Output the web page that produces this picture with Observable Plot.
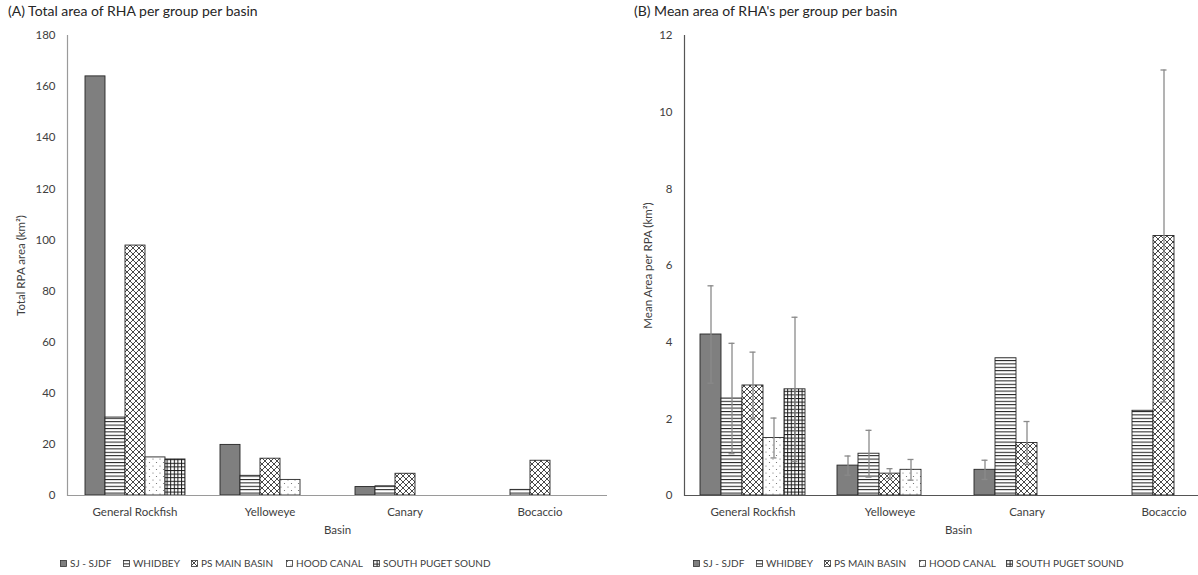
<!DOCTYPE html>
<html>
<head>
<meta charset="utf-8">
<script src="https://cdn.jsdelivr.net/npm/d3@7"></script>
<script src="https://cdn.jsdelivr.net/npm/@observablehq/plot@0.6"></script>
<style>
  html, body { margin: 0; padding: 0; background: #fff; }
  body { width: 1198px; height: 575px; overflow: hidden; position: relative; font-family: Lato, "Open Sans", sans-serif; color: #333; }
  .title { position: absolute; top: 2px; font-size: 14px; color: #262626; white-space: nowrap; }
  .chart { position: absolute; top: 20px; }
  .chart svg { max-width: none !important; }
  .legend { position: absolute; top: 557px; height: 14px; width: 540px; font-size: 10px; color: #404040; white-space: nowrap; }
  .legend .item { position: absolute; top: 0; display: flex; align-items: center; }
  .legend svg { margin-right: 3px; }
</style>
</head>
<body>
<svg width="0" height="0" style="position:absolute">
  <defs>
    <pattern id="pWh" width="4" height="3.4" patternUnits="userSpaceOnUse">
      <rect width="4" height="3.4" fill="#fff"/>
      <rect y="0" width="4" height="1" fill="#1a1a1a"/>
    </pattern>
    <pattern id="pPs" width="6" height="6" patternUnits="userSpaceOnUse">
      <rect width="6" height="6" fill="#fff"/>
      <path d="M0,0L6,6M6,0L0,6" stroke="#1a1a1a" stroke-width="0.8"/>
    </pattern>
    <pattern id="pHood" width="7" height="7" patternUnits="userSpaceOnUse">
      <rect width="7" height="7" fill="#fff"/>
      <circle cx="1.5" cy="1.5" r="0.6" fill="#666"/>
      <circle cx="5" cy="5" r="0.6" fill="#666"/>
    </pattern>
    <pattern id="pSouth" width="3.6" height="3.6" patternUnits="userSpaceOnUse">
      <rect width="3.6" height="3.6" fill="#fff"/>
      <rect width="3.6" height="1" fill="#1a1a1a"/>
      <rect width="1" height="3.6" fill="#1a1a1a"/>
    </pattern>
  </defs>
</svg>

<div class="title" style="left:8px">(A) Total area of RHA per group per basin</div>
<div class="title" style="left:634px">(B) Mean area of RHA's per group per basin</div>
<div id="left" class="chart" style="left:0px; width:608px"></div>
<div id="right" class="chart" style="left:600px; width:632px"></div>
<div id="legendL" class="legend" style="left:60px"></div>
<div id="legendR" class="legend" style="left:693px"></div>

<script>
// ---- data ----
const basins = ["General Rockfish", "Yelloweye", "Canary", "Bocaccio"];
const seriesNames = ["SJ - SJDF", "WHIDBEY", "PS MAIN BASIN", "HOOD CANAL", "SOUTH PUGET SOUND"];

// (A) total area (km²), per series, in basin order
const totalSJ    = [164, 19.8, 3.3, null];
const totalWhid  = [30.5, 7.7, 3.6, 2.2];
const totalPS    = [97.8, 14.4, 8.5, 13.6];
const totalHood  = [14.9, 6.1, null, null];
const totalSouth = [14.1, null, null, null];

// (B) mean area per RPA (km²) and error (±)
const meanSJ    = [4.2, 0.78, 0.67, null];
const meanWhid  = [2.53, 1.09, 3.58, 2.21];
const meanPS    = [2.87, 0.57, 1.37, 6.77];
const meanHood  = [1.5, 0.67, null, null];
const meanSouth = [2.77, null, null, null];

const errSJ    = [1.27, 0.25, 0.25, null];
const errWhid  = [1.44, 0.61, null, null];
const errPS    = [0.87, 0.13, 0.56, 4.33];
const errHood  = [0.52, 0.27, null, null];
const errSouth = [1.88, null, null, null];

const yTicksA = [0, 20, 40, 60, 80, 100, 120, 140, 160, 180];
const yTicksB = [0, 2, 4, 6, 8, 10, 12];

// ---- styling ----
const fills = ["#7f7f7f", "url(#pWh)", "url(#pPs)", "url(#pHood)", "url(#pSouth)"];

function buildRows(values, errs) {
  const rows = [];
  seriesNames.forEach((s, i) => {
    basins.forEach((b, j) => {
      const v = values[i][j];
      if (v != null) rows.push({basin: b, series: s, value: v, err: errs ? errs[i][j] : null});
    });
  });
  return rows;
}

const rowsA = buildRows([totalSJ, totalWhid, totalPS, totalHood, totalSouth]);
const rowsB = buildRows([meanSJ, meanWhid, meanPS, meanHood, meanSouth],
                        [errSJ, errWhid, errPS, errHood, errSouth]);

function chart({rows, width, marginLeft, yDomain, yTicks, yLabel, labelOffset, axisColor, withErr}) {
  const errRows = rows.filter(d => d.err != null);
  const marks = [
    Plot.barY(rows, {fx: "basin", x: "series", y: "value", fill: "series", stroke: "#262626", strokeWidth: 0.9}),
    Plot.ruleY([0], {stroke: axisColor, strokeWidth: 1.2}),
    Plot.frame({anchor: "left", stroke: axisColor, strokeWidth: 1.2, facetAnchor: "left"}),
    Plot.axisY({ticks: yTicks, tickSize: 0, tickPadding: 12, label: yLabel, labelAnchor: "center", labelArrow: "none",
                labelOffset, fontSize: 11.5, color: "#404040"}),
    Plot.axisFx({anchor: "bottom", tickSize: 0, tickPadding: 12, label: "Basin", labelAnchor: "center", labelArrow: "none",
                 labelOffset: 38, fontSize: 11.5, color: "#404040"})
  ];
  if (withErr) {
    marks.push(
      Plot.ruleX(errRows, {fx: "basin", x: "series", y1: d => d.value - d.err, y2: d => d.value + d.err, stroke: "#8a8a8a", strokeWidth: 1.3}),
      Plot.tickY(errRows, {fx: "basin", x: "series", y: d => d.value + d.err, stroke: "#8a8a8a", strokeWidth: 1.3, insetLeft: 7.5, insetRight: 7.5}),
      Plot.tickY(errRows, {fx: "basin", x: "series", y: d => d.value - d.err, stroke: "#8a8a8a", strokeWidth: 1.3, insetLeft: 7.5, insetRight: 7.5})
    );
  }
  return Plot.plot({
    width, height: 520,
    marginTop: 15, marginBottom: 45, marginLeft, marginRight: 0,
    style: {fontFamily: "Lato, 'Open Sans', sans-serif", fontSize: "11.5px", color: "#404040", background: "transparent", overflow: "visible", maxWidth: "none"},
    fx: {domain: basins, padding: 0, label: "Basin"},
    x: {domain: seriesNames, axis: null, paddingInner: 0, paddingOuter: 0.726},
    y: {domain: yDomain, axis: null},
    color: {domain: seriesNames, range: fills},
    marks
  });
}

document.getElementById("left").append(chart({
  rows: rowsA, width: 608, marginLeft: 66, yDomain: [0, 180], yTicks: yTicksA,
  yLabel: "Total RPA area (km²)", labelOffset: 51, axisColor: "#9a9a9a", withErr: false
}));
document.getElementById("right").append(chart({
  rows: rowsB, width: 632, marginLeft: 84, yDomain: [0, 12], yTicks: yTicksB,
  yLabel: "Mean Area per RPA (km²)", labelOffset: 41, axisColor: "#555", withErr: true
}));

// ---- legends ----
const legendOffsets = [0, 63, 131, 226, 313];
function legend(el) {
  seriesNames.forEach((s, i) => {
    const item = document.createElement("div");
    item.className = "item";
    item.style.left = legendOffsets[i] + "px";
    item.innerHTML = `<svg width="7" height="7"><rect x="0.5" y="0.5" width="6" height="6" fill="${fills[i]}" stroke="#333" stroke-width="0.8"/></svg><span>${s}</span>`;
    el.append(item);
  });
}
legend(document.getElementById("legendL"));
legend(document.getElementById("legendR"));
</script>
</body>
</html>
